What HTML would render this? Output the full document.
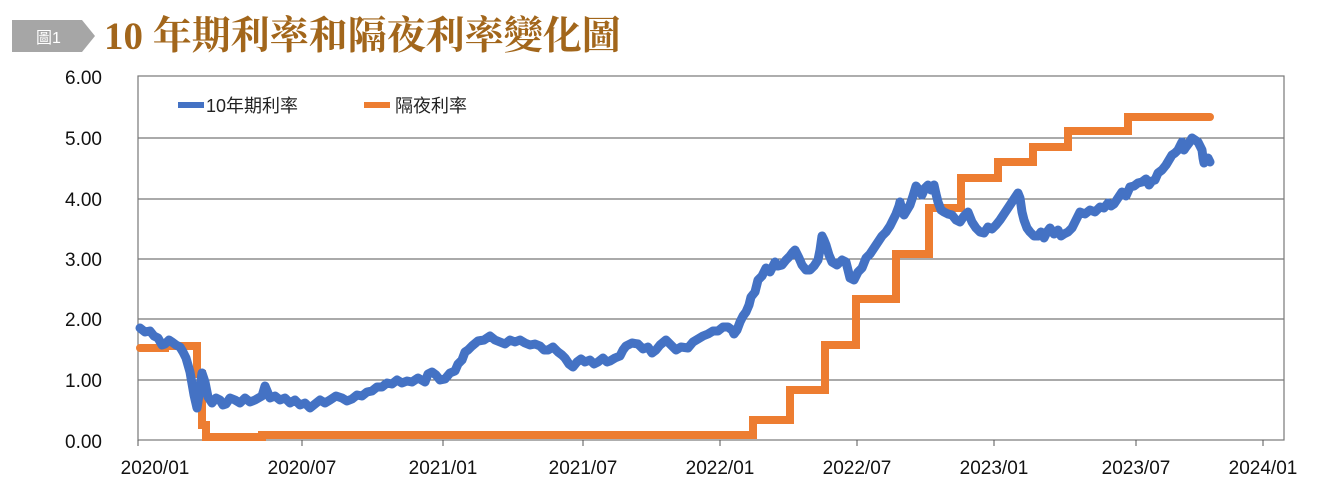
<!DOCTYPE html>
<html><head><meta charset="utf-8"><style>
body{margin:0;background:#fff;width:1319px;height:498px;overflow:hidden;font-family:"Liberation Sans","Noto Sans CJK TC",sans-serif}
</style></head><body>
<svg width="1319" height="498" xmlns="http://www.w3.org/2000/svg">
<polygon points="12,20 82,20 95,36 82,52 12,52" fill="#a6a6a6"/>
<text x="36" y="43" font-size="16" fill="#fff" font-family="Liberation Sans,Noto Sans CJK TC,sans-serif">圖1</text>
<text x="104" y="49" font-size="39" font-weight="bold" fill="#a2661b" font-family="Liberation Serif,Noto Serif CJK SC,serif">10 年期利率和隔夜利率變化圖</text>
<g stroke="#555" stroke-width="1">
<line x1="138" y1="138" x2="1284" y2="138"/><line x1="138" y1="199" x2="1284" y2="199"/>
<line x1="138" y1="259" x2="1284" y2="259"/><line x1="138" y1="319" x2="1284" y2="319"/>
<line x1="138" y1="380" x2="1284" y2="380"/>
</g>
<rect x="138" y="76" width="1146" height="364" fill="none" stroke="#777" stroke-width="1.2"/>
<g stroke="#555" stroke-width="1">
<line x1="138" y1="440" x2="138" y2="446"/><line x1="302" y1="440" x2="302" y2="446"/>
<line x1="443" y1="440" x2="443" y2="446"/><line x1="583" y1="440" x2="583" y2="446"/>
<line x1="720" y1="440" x2="720" y2="446"/><line x1="857" y1="440" x2="857" y2="446"/>
<line x1="994" y1="440" x2="994" y2="446"/><line x1="1136" y1="440" x2="1136" y2="446"/>
<line x1="1263" y1="440" x2="1263" y2="446"/>
</g>
<g font-size="19" fill="#111" text-anchor="end">
<text x="102" y="84">6.00</text><text x="102" y="145">5.00</text><text x="102" y="206">4.00</text>
<text x="102" y="266">3.00</text><text x="102" y="326">2.00</text><text x="102" y="387">1.00</text><text x="102" y="448">0.00</text>
</g>
<g font-size="19" fill="#111" text-anchor="middle">
<text x="155" y="474">2020/01</text><text x="302" y="474">2020/07</text><text x="443" y="474">2021/01</text>
<text x="583" y="474">2021/07</text><text x="720" y="474">2022/01</text><text x="857" y="474">2022/07</text>
<text x="994" y="474">2023/01</text><text x="1136" y="474">2023/07</text><text x="1263" y="474">2024/01</text>
</g>
<line x1="178" y1="105" x2="204" y2="105" stroke="#4472c4" stroke-width="6"/>
<text x="206" y="112" font-size="18" fill="#222">10年期利率</text>
<line x1="364" y1="105" x2="390" y2="105" stroke="#ed7d31" stroke-width="6"/>
<text x="395" y="112" font-size="18" fill="#222">隔夜利率</text>
<polyline fill="none" stroke="#ed7d31" stroke-width="8" stroke-linejoin="miter" stroke-linecap="round" points="140,348 165,348 165,346 197,346 197,374 202,374 202,425 206,425 206,437 262,437 262,435 753,435 753,420 790,420 790,390 825,390 825,345 856,345 856,299 896,299 896,254 929,254 929,208 961,208 961,178 998,178 998,162 1033,162 1033,147 1068,147 1068,131 1128,131 1128,117 1210,117"/>
<polyline fill="none" stroke="#4472c4" stroke-width="9" stroke-linejoin="round" stroke-linecap="round" points="140,328 145,332 150,331 154,336 158,338 162,345 165,344 169,340 172,342 176,345 180,347 183,352 186,358 190,372 194,395 197,408 199,395 202,373 205,382 208,397 212,403 216,398 220,400 223,405 226,404 230,398 235,400 240,403 245,398 250,402 255,400 262,396 265,386 270,398 275,396 280,400 285,398 290,403 295,400 300,405 305,403 310,408 315,404 320,400 325,403 330,400 336,396 342,398 347,401 352,399 357,395 362,396 367,392 372,391 377,387 382,387 387,383 392,384 397,380 402,383 407,381 412,382 418,378 425,382 428,374 432,372 436,375 440,380 445,379 450,373 455,371 458,364 462,360 465,352 468,350 472,346 478,341 484,340 490,336 495,340 500,342 505,344 510,340 515,342 520,340 525,343 530,345 535,344 540,346 544,350 548,350 553,347 558,352 562,355 565,358 569,364 573,367 577,362 581,359 585,362 590,360 594,364 598,362 603,358 607,362 610,361 615,358 620,356 623,350 626,346 632,343 638,344 643,349 648,347 652,353 656,350 660,345 666,340 671,345 676,350 681,347 688,348 693,342 698,339 703,336 708,334 713,331 718,331 723,327 728,327 732,330 734,334 737,330 740,322 743,316 746,312 749,305 751,297 755,292 758,280 762,276 766,268 770,272 775,262 778,266 782,265 786,260 790,256 793,252 795,250 799,258 802,265 806,270 810,270 814,266 818,260 820,250 822,236 824,240 826,245 829,255 832,262 837,265 842,260 846,262 850,278 854,280 858,272 862,268 866,258 870,254 874,248 878,242 882,236 886,232 890,226 893,220 896,214 899,206 900,202 902,210 904,215 907,210 910,205 913,196 916,186 919,190 922,195 925,188 928,185 931,190 934,185 936,194 938,202 941,210 944,212 948,214 952,215 956,220 960,222 964,216 968,212 972,222 976,228 980,232 984,233 988,227 992,229 996,225 1000,220 1004,214 1008,208 1012,202 1016,196 1018,193 1020,198 1022,212 1024,220 1027,228 1030,232 1034,236 1038,236 1041,232 1044,238 1047,232 1050,228 1054,234 1058,230 1061,236 1064,234 1068,232 1072,228 1076,220 1080,212 1085,214 1090,210 1095,212 1100,207 1104,208 1108,203 1111,206 1114,204 1118,198 1122,192 1126,196 1130,187 1134,186 1138,183 1142,182 1146,179 1149,185 1152,181 1155,180 1158,173 1162,170 1166,165 1169,160 1172,155 1175,153 1178,150 1180,146 1182,142 1184,150 1186,147 1189,143 1192,138 1195,140 1198,142 1200,146 1202,150 1203,158 1204,163 1206,160 1208,158 1210,162"/>
</svg>
</body></html>
